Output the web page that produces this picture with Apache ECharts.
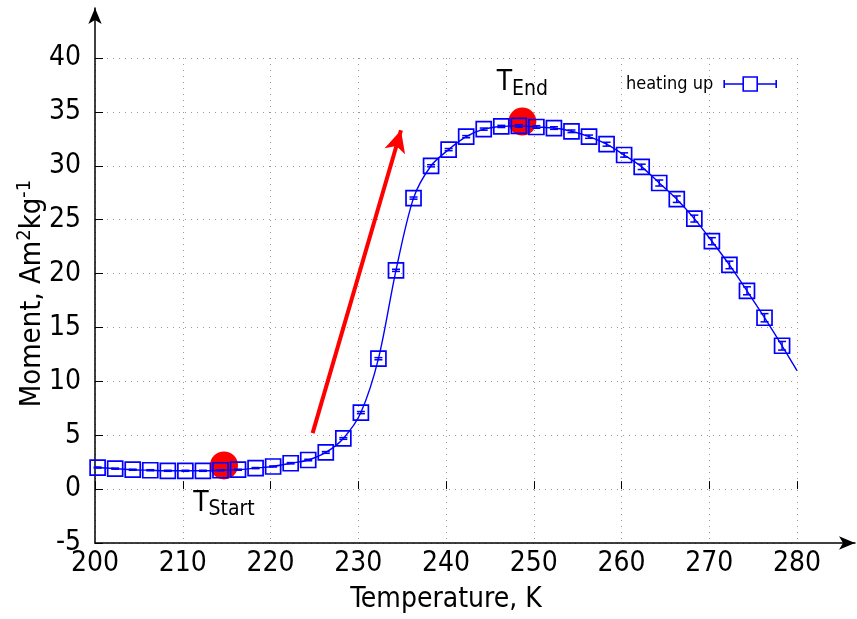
<!DOCTYPE html>
<html>
<head>
<meta charset="utf-8">
<script src="https://cdn.jsdelivr.net/npm/echarts@6/dist/echarts.min.js"></script>
<style>html,body{margin:0;padding:0;background:#fff}#c{width:857px;height:619px}</style>
</head>
<body>
<div id="c"></div>
<script>
// ---- data ----
const temps = [200.3,202.3,204.3,206.3,208.3,210.3,212.3,214.3,216.3,218.3,
               220.3,222.3,224.3,226.3,228.3,230.3,232.3,234.3,236.3,238.3,
               240.3,242.3,244.3,246.3,248.3,250.3,252.3,254.3,256.3,258.3,
               260.3,262.3,264.3,266.3,268.3,270.3,272.3,274.3,276.3,278.3];
const moments = [2.0,1.9,1.8,1.75,1.7,1.7,1.7,1.75,1.8,1.95,
                 2.1,2.4,2.7,3.4,4.7,7.1,12.1,20.3,27.0,30.0,
                 31.5,32.7,33.4,33.65,33.7,33.6,33.5,33.2,32.7,32.0,
                 31.0,29.9,28.4,26.9,25.1,23.0,20.8,18.4,15.9,13.3];
const errors = [0.05,0.05,0.05,0.05,0.05,0.05,0.05,0.05,0.05,0.05,
                0.05,0.06,0.07,0.08,0.08,0.1,0.1,0.1,0.1,0.1,
                0.1,0.1,0.1,0.1,0.12,0.12,0.12,0.12,0.15,0.18,
                0.2,0.25,0.28,0.3,0.32,0.33,0.35,0.37,0.38,0.4];
const curveStart = [200, 2.05];
const curveEnd = [280, 11.0];
const markerTemps = [214.7, 248.7];
const markerMoments = [2.2, 34.1];
const markerNames = ['Start', 'End'];
const arrowFrom = [224.8, 5.2];
const arrowTo = [234.87, 33.3];
const xMin = 200, xMax = 280, xStep = 10;
const yMin = -5, yMax = 40, yStep = 5;

const FONT = 'DejaVu Sans Condensed';
const BLUE = '#0000ff';

const points = temps.map((t, i) => [t, moments[i]]);
const curve = [curveStart].concat(points, [curveEnd]);
const errData = temps.map((t, i) => [t, moments[i], errors[i]]);

const chart = echarts.init(document.getElementById('c'));
chart.setOption({
  animation: false,
  backgroundColor: '#fff',
  grid: [
    {left: 95, right: 60, top: 58, bottom: 76},
    {left: 95, right: 2, top: 8, bottom: 76}
  ],
  legend: {
    right: 75, top: 70,
    align: 'right',
    itemWidth: 52, itemHeight: 15,
    textStyle: {fontFamily: FONT, fontSize: 18, color: '#000', padding: [0, 6, 0, 0]},
    itemStyle: {color: 'rgba(0,0,0,0)', borderColor: BLUE, borderWidth: 1.6},
    data: [{name: 'heating up',
      icon: 'path://M0,7.5L19,7.5M19,0.5L33,0.5L33,14.5L19,14.5ZM33,7.5L52,7.5M0,3.5L0,11.5M52,3.5L52,11.5'}]
  },
  xAxis: [
    {
      type: 'value', gridIndex: 0,
      min: xMin, max: xMax, interval: xStep,
      name: 'Temperature, K', nameLocation: 'middle', nameGap: 43,
      nameTextStyle: {fontFamily: FONT, fontSize: 28, color: '#000'},
      axisLine: {show: false},
      axisTick: {show: true, inside: true, length: 8, lineStyle: {color: '#000', width: 1}},
      axisLabel: {fontFamily: FONT, fontSize: 28, color: '#000', margin: 7},
      splitLine: {show: true, lineStyle: {color: '#999', type: [1, 5], width: 1}}
    },
    {
      type: 'value', gridIndex: 1, min: 0, max: 1,
      axisLine: {show: true, onZero: false, symbol: ['none', 'arrow'], symbolSize: [10, 16],
                 lineStyle: {color: '#000', width: 1.5}},
      axisTick: {show: false}, axisLabel: {show: false}, splitLine: {show: false}
    }
  ],
  yAxis: [
    {
      type: 'value', gridIndex: 0,
      min: yMin, max: yMax, interval: yStep,
      name: '{m|Moment, Am}{s|2}{n|kg}{s|-1}', nameLocation: 'middle', nameGap: 46,
      nameMoveOverlap: false,
      nameTextStyle: {
        fontFamily: FONT, fontSize: 29, color: '#000',
        rich: {
          m: {fontFamily: FONT, fontSize: 29, color: '#000', lineHeight: 34, padding: [0, 0, 0, 14]},
          n: {fontFamily: FONT, fontSize: 29, color: '#000', lineHeight: 34},
          s: {fontFamily: FONT, fontSize: 20, color: '#000', verticalAlign: 'top', lineHeight: 20}
        }
      },
      axisLine: {show: false},
      axisTick: {show: true, inside: true, length: 8, lineStyle: {color: '#000', width: 1}},
      axisLabel: {fontFamily: FONT, fontSize: 28, color: '#000', margin: 14},
      splitLine: {show: true, lineStyle: {color: '#999', type: [1, 5], width: 1}}
    },
    {
      type: 'value', gridIndex: 1, min: 0, max: 1,
      axisLine: {show: true, onZero: false, symbol: ['none', 'arrow'], symbolSize: [10, 16],
                 lineStyle: {color: '#000', width: 1.5}},
      axisTick: {show: false}, axisLabel: {show: false}, splitLine: {show: false}
    }
  ],
  series: [
    {
      name: 'markers', type: 'scatter', z: 1,
      symbol: 'circle', symbolSize: 28,
      itemStyle: {color: '#ff0000', opacity: 1},
      data: markerTemps.map((t, i) => ({
        value: [t, markerMoments[i]],
        label: {
          show: true, position: 'inside',
          offset: i === 0 ? [0, 38] : [0, -39],
          formatter: '{t|T}{s|' + markerNames[i] + '}',
          rich: {
            t: {fontFamily: FONT, fontSize: 28, color: '#000', lineHeight: 34},
            s: {fontFamily: FONT, fontSize: 21, color: '#000', verticalAlign: 'bottom', lineHeight: 14}
          }
        }
      }))
    },
    {
      name: 'fit', type: 'line', z: 3,
      smooth: 0.3, showSymbol: false,
      lineStyle: {color: BLUE, width: 1.4},
      data: curve,
      markLine: {
        silent: true,
        symbol: ['none', 'arrow'], symbolSize: [16, 22],
        lineStyle: {color: '#ff0000', width: 4, type: 'solid'},
        label: {show: false},
        data: [[{coord: arrowFrom}, {coord: arrowTo}]]
      }
    },
    {
      name: 'heating up', type: 'scatter', z: 4,
      symbol: 'rect', symbolSize: 15,
      itemStyle: {color: 'rgba(0,0,0,0)', borderColor: BLUE, borderWidth: 1.7, opacity: 1},
      data: points
    },
    {
      name: 'err', type: 'custom', z: 5,
      renderItem: function (params, api) {
        const x = api.value(0), y = api.value(1), e = api.value(2);
        const top = api.coord([x, y + e]);
        const bot = api.coord([x, y - e]);
        const w = 4;
        const st = {stroke: BLUE, lineWidth: 1.5};
        return {
          type: 'group',
          children: [
            {type: 'line', shape: {x1: top[0], y1: top[1], x2: bot[0], y2: bot[1]}, style: st},
            {type: 'line', shape: {x1: top[0] - w, y1: top[1], x2: top[0] + w, y2: top[1]}, style: st},
            {type: 'line', shape: {x1: bot[0] - w, y1: bot[1], x2: bot[0] + w, y2: bot[1]}, style: st}
          ]
        };
      },
      encode: {x: 0, y: 1},
      data: errData
    }
  ]
});
</script>
</body>
</html>
